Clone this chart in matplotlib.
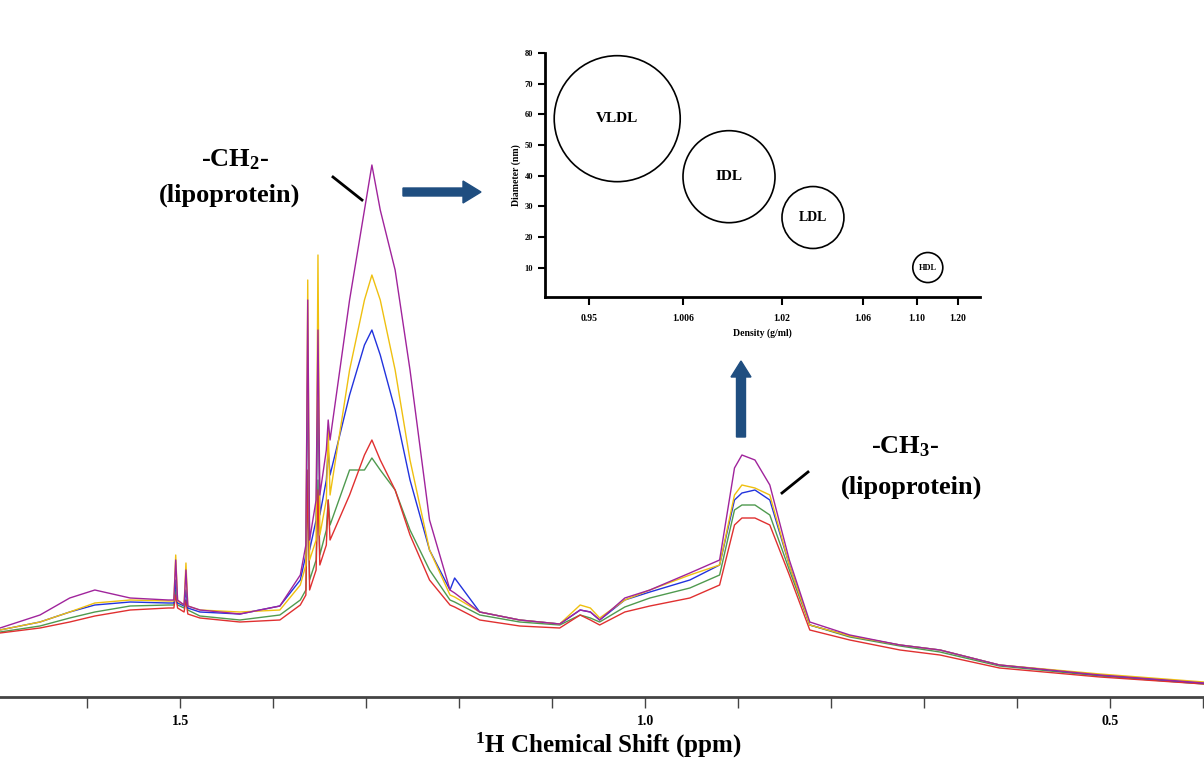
import matplotlib
matplotlib.use("Agg")
import matplotlib.pyplot as plt
import numpy as np

ppm = [1.694,1.651,1.619,1.592,1.554,1.513,1.507,1.505,1.503,1.496,1.494,1.492,1.479,1.436,1.393,1.371,1.365,1.363,1.361,1.354,
       1.352,1.350,1.343,1.341,1.339,1.318,1.302,1.294,1.285,1.269,1.253,1.232,1.210,1.205,1.178,1.135,1.092,1.070,1.059,1.049,
       1.022,0.995,0.952,0.920,0.904,0.896,0.882,0.866,0.845,0.823,0.780,0.726,0.683,0.619,0.511,0.399]
purple = [72,85,102,110,102,100,100,140,100,95,130,94,90,86,94,125,155,400,160,200,370,205,250,280,260,400,490,535,490,430,
          330,180,110,107,88,80,76,90,88,80,102,110,127,140,232,245,240,215,140,78,65,55,50,35,25,17]
yellow = [70,78,88,97,100,99,99,145,99,95,137,94,90,88,90,115,135,420,140,160,445,165,200,270,205,330,400,425,400,330,
          240,150,105,103,88,80,76,95,92,82,100,110,125,135,205,215,212,205,135,75,64,55,50,35,26,18]
blue = [70,78,88,95,98,97,97,120,97,94,110,92,88,86,94,120,145,330,150,180,300,185,220,250,225,305,355,370,345,290,
        220,150,110,122,88,80,76,90,88,80,100,108,120,135,200,207,210,200,135,75,64,55,50,35,25,17]
green = [68,74,82,88,94,95,95,110,95,92,100,90,84,80,85,100,110,220,120,140,220,145,170,200,175,230,230,242,230,210,
         170,130,100,98,85,78,75,85,82,78,93,102,112,125,190,195,195,185,130,75,63,54,48,34,24,16]
red = [67,72,78,84,90,92,92,105,92,88,100,86,82,78,80,95,105,230,110,130,210,135,155,200,160,205,245,260,240,210,
       165,120,95,93,80,74,72,85,80,75,88,94,102,115,175,182,182,175,125,70,60,50,45,32,23,16]

lip_names = ["VLDL", "IDL", "LDL", "HDL"]
lip_diam = [58.6, 39.7, 26.4, 10.1]
density_ticks = ["0.95", "1.006", "1.02", "1.06", "1.10", "1.20"]

serif = "Liberation Serif"
plt.rcParams["mathtext.fontset"] = "custom"
plt.rcParams["mathtext.rm"] = "Liberation Serif:bold"
plt.rcParams["mathtext.it"] = "Liberation Serif:bold"
plt.rcParams["mathtext.bf"] = "Liberation Serif:bold"
plt.rcParams["mathtext.default"] = "rm"

W, H = 1204, 779
fig = plt.figure(figsize=(12.04, 7.79), dpi=100)
ax = fig.add_axes([0, 82/H, 1, 1-82/H])
series = [(green, "#4f9a4f"), (red, "#e03030"), (blue, "#2233dd"), (yellow, "#efc010"), (purple, "#a0249c")]
for vals, c in series:
    ax.plot(ppm, vals, color=c, lw=1.0)
ax.set_xlim(1.694, 0.399)
ax.set_ylim(3, 700)
for s in ["top", "left", "right"]:
    ax.spines[s].set_visible(False)
ax.spines["bottom"].set_linewidth(2)
ax.spines["bottom"].set_color("#444444")
ax.set_yticks([])
ax.set_xticks(np.arange(0.4, 1.7, 0.1), minor=True)
ax.set_xticks([1.5, 1.0, 0.5])
ax.set_xticklabels(["1.5", "1.0", "0.5"], fontfamily=serif, fontweight="bold", fontsize=10)
ax.tick_params(axis="x", which="both", length=8, width=1, color="#444444", pad=5)

fig.text(608/W, 1-745/H, "$^{1}$H Chemical Shift (ppm)", fontfamily=serif, fontweight="bold",
         fontsize=18, ha="center", va="center")
tk = dict(fontfamily=serif, fontweight="bold", fontsize=19, ha="center", va="center")
fig.text(235/W, 1-160/H, "-CH$_2$-", **tk)
fig.text(230/W, 1-195/H, "(lipoprotein)", **tk)
fig.text(905/W, 1-447/H, "-CH$_3$-", **tk)
fig.text(912/W, 1-487/H, "(lipoprotein)", **tk)
fig.add_artist(plt.Line2D([333/W, 362/W], [1-177/H, 1-200/H], color="black", lw=2))
fig.add_artist(plt.Line2D([782/W, 808/W], [1-493/H, 1-472/H], color="black", lw=2))
ac = "#1f4e80"
fig.add_artist(matplotlib.patches.FancyArrow(403/W, 1-192/H, 60/W, 0, width=8/H, head_width=22/H,
               head_length=18/W, color=ac, transform=fig.transFigure))
fig.add_artist(matplotlib.patches.FancyArrow(741/W, 1-437/H, 0, 60/H, width=9/W, head_width=20/W,
               head_length=16/H, color=ac, transform=fig.transFigure))

# inset
ia = fig.add_axes([545/W, 1-297/H, 435/W, 244/H])
ia.set_xlim(0, 1)
ia.set_ylim(0.5, 80)
xpos = [0.166, 0.423, 0.616, 0.880]
sizes = [8230, 4390, 1990, 467]
ia.scatter(xpos, lip_diam, s=sizes, facecolors="none", edgecolors="black", linewidths=1.2, clip_on=False)
fs = [11, 11, 10, 6]
for x, y, n, f in zip(xpos, lip_diam, lip_names, fs):
    ia.text(x, y, n, fontfamily=serif, fontweight="bold", fontsize=f, ha="center", va="center")
for s in ["top", "right"]:
    ia.spines[s].set_visible(False)
for s in ["left", "bottom"]:
    ia.spines[s].set_linewidth(2)
ia.set_yticks(range(10, 90, 10))
ia.set_yticklabels([str(v) for v in range(10, 90, 10)], fontfamily=serif, fontweight="bold", fontsize=6)
ia.set_xticks([0.101, 0.317, 0.545, 0.731, 0.855, 0.949])
ia.set_xticklabels(density_ticks, fontfamily=serif, fontweight="bold", fontsize=7)
ia.tick_params(axis="both", length=5, width=1.5)
ia.tick_params(axis="x", length=6, pad=6)
ia.set_xlabel("Density (g/ml)", fontfamily=serif, fontweight="bold", fontsize=7, labelpad=4)
ia.set_ylabel("Diameter (nm)", fontfamily=serif, fontweight="bold", fontsize=7, labelpad=3)
ia.patch.set_alpha(0)

fig.savefig("out.png", dpi=100)
